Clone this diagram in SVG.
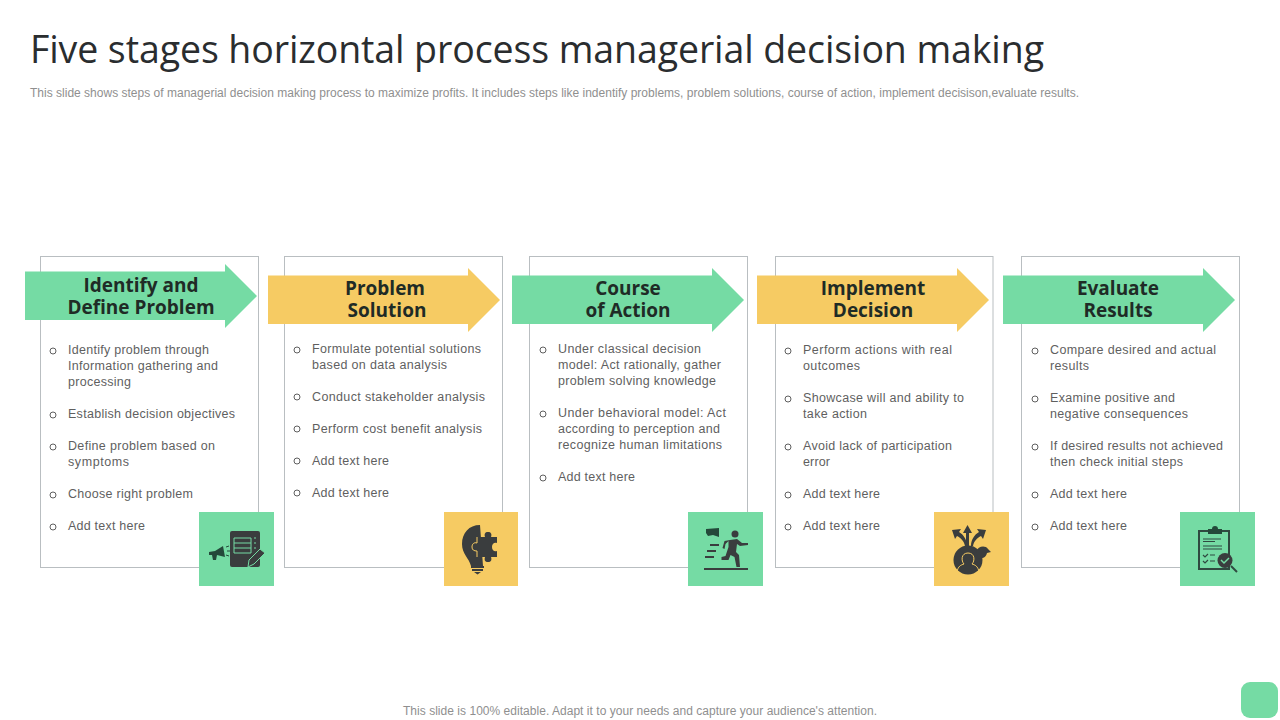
<svg xmlns="http://www.w3.org/2000/svg" width="1280" height="720" viewBox="0 0 1280 720">
<style>
.card{fill:#fff;stroke:#b9bec1;stroke-width:1}
.g{fill:#75dba4}.y{fill:#f6cb63}
.h{font-family:"Open Sans","DejaVu Sans",sans-serif;font-weight:700;font-size:19px;fill:#1f2b26;text-anchor:middle}
.b{font-family:"Liberation Sans",Arial,sans-serif;font-size:12.500px;fill:#5f5f5f}
.dot{fill:none;stroke:#5f5f5f;stroke-width:1}
.ic{fill:#3a3d3e}
.icg{fill:#24493a}
.ln{fill:none;stroke:#3a3d3e;stroke-width:2}
.lg{fill:none;stroke:#75dba4;stroke-width:1}
.ly{fill:none;stroke:#f6cb63;stroke-width:1}
</style>
<rect width="1280" height="720" fill="#fff"/>
<text x="30" y="63" font-family="Open Sans, DejaVu Sans, sans-serif" font-size="37.500px" fill="#2a2d2f" textLength="1014">Five stages horizontal process managerial decision making</text>
<text x="30" y="97" font-family="Liberation Sans, Arial, sans-serif" font-size="12px" fill="#8f8f8f" textLength="1049">This slide shows steps of managerial decision making process to maximize profits. It includes steps like indentify problems, problem solutions, course of action, implement decisison,evaluate results.</text>

<g id="stage-1">
<rect class="card" x="40.500" y="256.500" width="218" height="311"/>
<polygon class="g" points="25,271.500 225,271.500 225,264 257,296 225,328 225,320 25,320"/>
<text class="h"><tspan x="141" y="292">Identify and</tspan><tspan x="141" y="314">Define Problem</tspan></text>
<g class="b">
<text x="68" y="354" textLength="141">Identify problem through</text>
<text x="68" y="370" textLength="150">Information gathering and</text>
<text x="68" y="386" textLength="63">processing</text>
<text x="68" y="418" textLength="167">Establish decision objectives</text>
<text x="68" y="450" textLength="147">Define problem based on</text>
<text x="68" y="466" textLength="61">symptoms</text>
<text x="68" y="498" textLength="125">Choose right problem</text>
<text x="68" y="530" textLength="77">Add text here</text>
</g>
<g class="dot"><circle cx="53" cy="351" r="3"/><circle cx="53" cy="415" r="3"/><circle cx="53" cy="447" r="3"/><circle cx="53" cy="495" r="3"/><circle cx="53" cy="527" r="3"/></g>
<rect class="g" x="199" y="512" width="75" height="74"/>
<rect class="ic" x="230" y="531" width="30" height="36" rx="2"/>
<path class="lg" d="M234 538h17v15h-17zM234 543h17M234 548h17M254 538h2M254 543h2M254 548h2"/>
<path d="M248 567l1 -7 11 -11 5 4 -11 11z" fill="#3a3d3e" stroke="#75dba4"/>
<path class="icg" d="M209 552l6 -1 8 -5 2 11 -8 -2 -1 5 -3 0 -1 -5 -3 0z"/>
<path d="M226 547l3 -1M227 551h3M226 555l3 1" stroke="#24493a" fill="none"/>
</g>

<g id="stage-2">
<rect class="card" x="284.500" y="256.500" width="218" height="311"/>
<polygon class="y" points="268,275.500 468,275.500 468,268 500,300 468,332 468,324 268,324"/>
<text class="h"><tspan x="385" y="295">Problem</tspan><tspan x="387" y="317">Solution</tspan></text>
<g class="b">
<text x="312" y="353" textLength="169">Formulate potential solutions</text>
<text x="312" y="369" textLength="135">based on data analysis</text>
<text x="312" y="401" textLength="173">Conduct stakeholder analysis</text>
<text x="312" y="433" textLength="170">Perform cost benefit analysis</text>
<text x="312" y="465" textLength="77">Add text here</text>
<text x="312" y="497" textLength="77">Add text here</text>
</g>
<g class="dot"><circle cx="297" cy="350" r="3"/><circle cx="297" cy="397" r="3"/><circle cx="297" cy="429" r="3"/><circle cx="297" cy="461" r="3"/><circle cx="297" cy="493" r="3"/></g>
<rect class="y" x="444" y="512" width="74" height="74"/>
<path class="ic" d="M480 525c-11 0 -18 8 -18 19 0 10 7 14 9 22h12z"/>
<path class="ic" d="M477 537h8c-1 -3 0 -5 3 -5s4 2 3 5h6v6c-3 -1 -5 1 -5 4s2 5 5 4v6h-6c1 3 0 5 -3 5s-4 -2 -3 -5h-8v-6c-3 0 -5 -2 -5 -4s2 -5 5 -4z"/>
<path class="ly" d="M477 537v6c-3 -1 -5 1 -5 4s2 4 5 4v6"/>
<path class="ic" d="M471 566h13v2h-13zM472 569h11v2h-11zM474 572h7l-3.500 2.500z"/>
</g>

<g id="stage-3">
<rect class="card" x="529.500" y="256.500" width="218" height="311"/>
<polygon class="g" points="512,275.500 712,275.500 712,268 744,300 712,332 712,324 512,324"/>
<text class="h"><tspan x="628" y="295">Course</tspan><tspan x="628" y="317">of Action</tspan></text>
<g class="b">
<text x="558" y="353" textLength="143">Under classical decision</text>
<text x="558" y="369" textLength="163">model: Act rationally, gather</text>
<text x="558" y="385" textLength="158">problem solving knowledge</text>
<text x="558" y="417" textLength="168">Under behavioral model: Act</text>
<text x="558" y="433" textLength="162">according to perception and</text>
<text x="558" y="449" textLength="164">recognize human limitations</text>
<text x="558" y="481" textLength="77">Add text here</text>
</g>
<g class="dot"><circle cx="543" cy="350" r="3"/><circle cx="543" cy="414" r="3"/><circle cx="543" cy="478" r="3"/></g>
<rect class="g" x="688" y="512" width="75" height="74"/>
<path class="icg" d="M706 529l13 -1 0 9 -6 -2 -5 1 -2 -3z"/>
<circle class="ic" cx="735" cy="534" r="3.500"/>
<path class="ln" d="M704 569h44"/>
<path class="ic" d="M730 540l7 -1 5 4 6 0 0 2 -8 1 -3 -2 -1 8 3 3 1 12 -3.500 0 -2 -10 -4 -2 -2 5 -7 0 0 -3 4 -1 3 -9 0 -6 -3 3 -1 5 -2 -1 2 -7z"/>
<path class="ln" d="M710 545h9M707 551h9M705 557h9"/>
</g>

<g id="stage-4">
<rect class="card" x="775.500" y="256.500" width="217.500" height="311"/>
<polygon class="y" points="757,275.500 957,275.500 957,268 989,300 957,332 957,324 757,324"/>
<text class="h"><tspan x="873" y="295">Implement</tspan><tspan x="873" y="317">Decision</tspan></text>
<g class="b">
<text x="803" y="354" textLength="149">Perform actions with  real</text>
<text x="803" y="370" textLength="57">outcomes</text>
<text x="803" y="402" textLength="161">Showcase will and ability to</text>
<text x="803" y="418" textLength="64">take action</text>
<text x="803" y="450" textLength="149">Avoid lack of participation</text>
<text x="803" y="466" textLength="27">error</text>
<text x="803" y="498" textLength="77">Add text here</text>
<text x="803" y="530" textLength="77">Add text here</text>
</g>
<g class="dot"><circle cx="788" cy="351" r="3"/><circle cx="788" cy="399" r="3"/><circle cx="788" cy="447" r="3"/><circle cx="788" cy="495" r="3"/><circle cx="788" cy="527" r="3"/></g>
<rect class="y" x="934" y="512" width="75" height="74"/>
<circle class="ic" cx="968" cy="560" r="14.500"/>
<path class="ic" d="M976 552c2 -6 9 -7 12 -3l3 3 -4 1c-1 5 -6 6 -9 5z"/>
<path class="ic" d="M966 546v-13h-3l4.500 -8 4.500 8h-3v13zM965 546c-1 -5 -4 -8 -8 -10l-2 3 -3 -9 9 -1 -2 3c5 3 8 8 8 14zM971 546c0 -6 3 -11 8 -14l-2 -3 9 1 -3 9 -2 -3c-4 2 -7 5 -8 10z"/>
<path class="ly" d="M957 572c1 -6 4 -7 7 -8 -3 -3 -3 -11 4 -11s7 8 4 11c3 1 6 2 7 8"/>
</g>

<g id="stage-5">
<rect class="card" x="1021.500" y="256.500" width="218" height="311"/>
<polygon class="g" points="1003,275.500 1203,275.500 1203,268 1235,300 1203,332 1203,324 1003,324"/>
<text class="h"><tspan x="1118" y="295">Evaluate</tspan><tspan x="1118" y="317">Results</tspan></text>
<g class="b">
<text x="1050" y="354" textLength="166">Compare desired and actual</text>
<text x="1050" y="370" textLength="39">results</text>
<text x="1050" y="402" textLength="125">Examine positive and</text>
<text x="1050" y="418" textLength="138">negative consequences</text>
<text x="1050" y="450" textLength="173">If desired results not achieved</text>
<text x="1050" y="466" textLength="133">then check initial steps</text>
<text x="1050" y="498" textLength="77">Add text here</text>
<text x="1050" y="530" textLength="77">Add text here</text>
</g>
<g class="dot"><circle cx="1035" cy="351" r="3"/><circle cx="1035" cy="399" r="3"/><circle cx="1035" cy="447" r="3"/><circle cx="1035" cy="495" r="3"/><circle cx="1035" cy="527" r="3"/></g>
<rect class="g" x="1180" y="512" width="75" height="74"/>
<rect x="1199" y="531" width="30" height="38" fill="none" stroke="#2f4a40" stroke-width="2"/>
<path class="icg" d="M1208 529h4a3 3 0 0 1 6 0h4v5h-14z"/>
<path d="M1203 539h18M1203 541.500h12M1203 546h19M1203 549h19M1203 555l2 2 3 -3M1210 555h5M1203 561l2 2 3 -3M1210 561h5" fill="none" stroke="#2f4a40" stroke-width="1.200"/>
<circle class="ic" cx="1225" cy="560.500" r="7.500"/>
<path d="M1221 560l3 3 5 -5" fill="none" stroke="#75dba4" stroke-width="1.500"/>
<path d="M1231 566l6 6" stroke="#2f4a40" stroke-width="2"/>
</g>

<text x="640" y="715" text-anchor="middle" font-family="Liberation Sans, Arial, sans-serif" font-size="12px" fill="#8f8f8f" textLength="474">This slide is 100% editable. Adapt it to your needs and capture your audience's attention.</text>
<rect class="g" x="1241" y="682" width="37" height="36" rx="9"/>
</svg>
